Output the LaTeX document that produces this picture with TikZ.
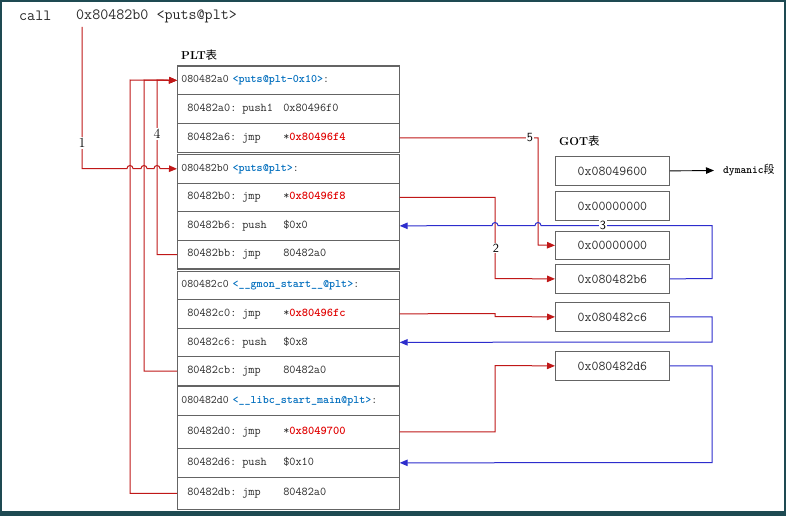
\documentclass[tikz,border=0pt]{standalone}
\usepackage{fontspec}
\newfontfamily\cjk{Noto Sans CJK SC}
\usetikzlibrary{arrows.meta}
\definecolor{framec}{RGB}{30,74,82}
\definecolor{lred}{RGB}{192,24,24}
\definecolor{lblue}{RGB}{45,45,205}
\definecolor{tred}{RGB}{225,0,0}
\definecolor{tblue}{RGB}{0,110,190}
\definecolor{tgray}{RGB}{40,40,40}
\definecolor{bgray}{RGB}{100,100,100}
\newcommand\rowfont{\ttfamily\fontsize{11.9}{13}\selectfont}
\newcommand\headfont{\ttfamily\fontsize{11.5}{13}\selectfont}
\newcommand\gotfont{\ttfamily\fontsize{13.5}{15}\selectfont}
\newcommand\callfont{\ttfamily\fontsize{15.6}{17}\selectfont}
\newcommand\colA[1]{\makebox[96pt][l]{#1}}
\newcommand\rd[1]{\textcolor{tred}{\bfseries #1}}
\newcommand\bl[1]{\textcolor{tblue}{\bfseries #1}}
\begin{document}
\begin{tikzpicture}[x=1pt,y=1pt,
  rowbox/.style={draw=bgray, line width=0.7pt, anchor=north west, minimum width=222pt,
    inner xsep=10pt, inner ysep=0pt, text width=202pt, align=left, font=\rowfont, text=tgray},
  headbox/.style={rowbox, inner xsep=4pt, text width=214pt, font=\headfont},
  gotbox/.style={draw=bgray, line width=0.8pt, anchor=north west, minimum width=114pt,
    minimum height=29pt, inner sep=0pt, font=\gotfont, text=tgray},
  groupframe/.style={draw=bgray, line width=1pt},
  rline/.style={draw=lred, line width=1pt, -{Triangle[length=8pt,width=6.5pt]}},
  bline/.style={draw=lblue, line width=1pt, -{Triangle[length=8pt,width=6.5pt]}},
  kline/.style={draw=black, line width=0.9pt, -{Triangle[length=8pt,width=6.5pt]}},
  lbl/.style={fill=white, inner sep=1pt, text=black, font=\fontsize{14}{15}\selectfont},
  slbl/.style={lbl, font=\sffamily\fontsize{12.5}{13}\selectfont}]
\useasboundingbox (0,0) rectangle (786,-516);
\fill[framec] (0,0) rectangle (786,-516);
\fill[white] (2,-2) rectangle (783.5,-510.5);

% top call line
\node[anchor=west, inner sep=0pt, font=\callfont, text=tgray] (call) at (19,-16) {call};
\node[anchor=west, inner sep=0pt, font=\callfont, text=tgray] (addr) at (76,-16) {0x80482b0 <puts@plt>};
\coordinate (c1) at (82,-27);

% titles
\node[anchor=west, inner sep=0pt, text=black] (pltlbl) at (181,-55) {\fontsize{11.5}{12}\selectfont\textbf{PLT}{\cjk 表}};
\node[anchor=west, inner sep=0pt, text=black] (gotlbl) at (559,-141) {\fontsize{11.5}{12}\selectfont\textbf{GOT}{\cjk 表}};

% PLT group 1
\node[headbox, minimum height=28pt] (h1) at (177,-66) {080482a0 \bl{<puts@plt-0x10>}:};
\node[rowbox, minimum height=29pt] (r1a) at (177,-94) {\colA{80482a0: push1}0x80496f0};
\node[rowbox, minimum height=29pt] (r1b) at (177,-123) {\colA{80482a6: jmp}*\rd{0x80496f4}};
% group 2
\node[headbox, minimum height=29pt] (h2) at (177,-154) {080482b0 \bl{<puts@plt>}:};
\node[rowbox, minimum height=28pt] (r2a) at (177,-183) {\colA{80482b0: jmp}*\rd{0x80496f8}};
\node[rowbox, minimum height=29pt] (r2b) at (177,-211) {\colA{80482b6: push}\$0x0};
\node[rowbox, minimum height=28.5pt] (r2c) at (177,-240) {\colA{80482bb: jmp}80482a0};
% group 3
\node[headbox, minimum height=28pt] (h3) at (177,-271) {080482c0 \bl{<\_\_gmon\_start\_\_@plt>}:};
\node[rowbox, minimum height=29pt] (r3a) at (177,-299) {\colA{80482c0: jmp}*\rd{0x80496fc}};
\node[rowbox, minimum height=28pt] (r3b) at (177,-328) {\colA{80482c6: push}\$0x8};
\node[rowbox, minimum height=29.5pt] (r3c) at (177,-356) {\colA{80482cb: jmp}80482a0};
% group 4
\node[headbox, minimum height=29pt] (h4) at (177,-386) {080482d0 \bl{<\_\_libc\_start\_main@plt>}:};
\node[rowbox, minimum height=33pt] (r4a) at (177,-415) {\colA{80482d0: jmp}*\rd{0x8049700}};
\node[rowbox, minimum height=29pt] (r4b) at (177,-448) {\colA{80482d6: push}\$0x10};
\node[rowbox, minimum height=32pt] (r4c) at (177,-477) {\colA{80482db: jmp}80482a0};

\draw[groupframe] (177,-66) rectangle (399,-152);
\draw[groupframe] (177,-154) rectangle (399,-268.5);
\draw[groupframe] (177,-271) rectangle (399,-385.5);
\draw[groupframe] (177,-386) rectangle (399,-509);

% GOT boxes
\node[gotbox] (g1) at (555,-156) {0x08049600};
\node[gotbox] (g2) at (555,-191) {0x00000000};
\node[gotbox, minimum height=28pt] (g3) at (555,-231) {0x00000000};
\node[gotbox] (g4) at (555,-264) {0x080482b6};
\node[gotbox] (g5) at (555,-302) {0x080482c6};
\node[gotbox] (g6) at (555,-351) {0x080482d6};

\node[anchor=west, inner sep=0pt, text=black] (dym) at (723,-170.5)
  {\ttfamily\bfseries\fontsize{11}{12}\selectfont dymanic{\cjk\mdseries 段}};
\draw[kline] (g1.east) -- ([xshift=-9pt]dym.west);

% left connectors
\draw[rline] (r2c.west) -| (157,-80) -- (h1.west);
\draw[rline] (r3c.west) -| (144,-80) -- (h1.west);
\draw[rline] (r4c.west) -| (130,-80) -- (h1.west);
\draw[rline] (c1) -- (82,-168.5) -- (127,-168.5)
  arc[start angle=180,end angle=0,radius=3pt] -- (141,-168.5)
  arc[start angle=180,end angle=0,radius=3pt] -- (154,-168.5)
  arc[start angle=180,end angle=0,radius=3pt] -- (h2.west);
\node[lbl] (n1) at (82,-143) {1};
\node[lbl] (n4) at (157,-134) {4};

% right connectors
\draw[rline] (r1b.east) -| (538,-245) -- (g3.west);
\node[slbl] (n5) at (530,-137.5) {5};
\draw[rline] (r2a.east) -| (495,-278.5) -- (g4.west);
\node[slbl] (n2) at (496,-248) {2};
\draw[bline] (g4.east) -- (712,-278.5) -- (712,-225.5) -- (541,-225.5)
  arc[start angle=0,end angle=180,radius=3pt] -- (498,-225.5)
  arc[start angle=0,end angle=180,radius=3pt] -- (r2b.east);
\node[slbl] (n3) at (603,-225.5) {3};

\draw[rline] (r3a.east) -- (495,-313.5) -- (495,-316.5) -- (g5.west);
\draw[bline] (g5.east) -| (712,-342) -- (r3b.east);
\draw[rline] (r4a.east) -| (495,-365.5) -- (g6.west);
\draw[bline] (g6.east) -| (712,-462.5) -- (r4b.east);
\end{tikzpicture}
\end{document}
